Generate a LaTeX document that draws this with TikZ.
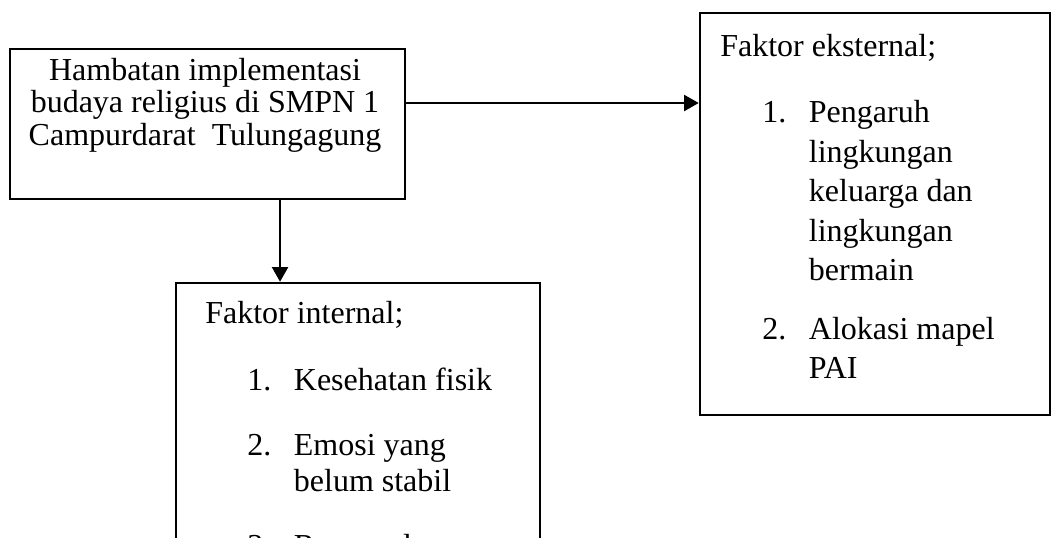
\documentclass[tikz,border=0pt]{standalone}
\usepackage{fontspec}
\setmainfont{Liberation Serif}
\usetikzlibrary{arrows.meta,fit}

\newcommand{\nomor}[1]{\hspace*{31.5pt}\makebox[35pt][l]{#1}}

\begin{document}
\begin{tikzpicture}[
    x=0.75pt, y=-0.75pt, % one unit is one pixel of the sheet
    kotak/.style={draw, line width=1.9pt, inner sep=0pt}, % plain boxes
    isi/.style={align=left, inner sep=0pt, font=\fontsize{24}{27.6}\selectfont}, % list text inside the boxes
    panah/.style={line width=1.7pt, -{Triangle[length=11pt,width=12pt]}} % connectors
]
\useasboundingbox (0,0) rectangle (1053,537);
\clip (0,0) rectangle (1053,537);

\node[kotak, fit={(10,49) (405,199)}] (hambatan) {};
\node[kotak, fit={(700,13) (1050,415)}] (eksternal) {};
\node[kotak, fit={(176,283) (540,620)}] (internal) {}; % runs off the bottom of the page

\node[align=center, inner sep=0pt, font=\fontsize{24}{24.4}\selectfont] (hambatan-isi) at (205,105)
    {Hambatan implementasi\\ budaya religius di SMPN 1\\ Campurdarat~ Tulungagung};

\node[isi, font=\fontsize{24}{29.6}\selectfont, anchor=north west] (eksternal-isi) at (720,34) {Faktor eksternal;\\[20pt]
    \nomor{1.}Pengaruh\\
    \nomor{}lingkungan\\
    \nomor{}keluarga dan\\
    \nomor{}lingkungan\\
    \nomor{}bermain\\[14.6pt]
    \nomor{2.}Alokasi mapel\\
    \nomor{}PAI};

\node[isi, anchor=north west] (internal-isi) at (205,301) {Faktor internal;\\[22.5pt]
    \nomor{1.}Kesehatan fisik\\[21pt]
    \nomor{2.}Emosi yang\\
    \nomor{}belum stabil\\[21pt]
    \nomor{3.}Rasa malas};

\draw[panah] ([yshift=15.75pt]hambatan.east) -- ([yshift=15.75pt]hambatan.east -| eksternal.west);
\draw[panah] ([xshift=54.4pt]hambatan.south) -- ([xshift=54.4pt]hambatan.south |- internal.north);
\end{tikzpicture}
\end{document}
